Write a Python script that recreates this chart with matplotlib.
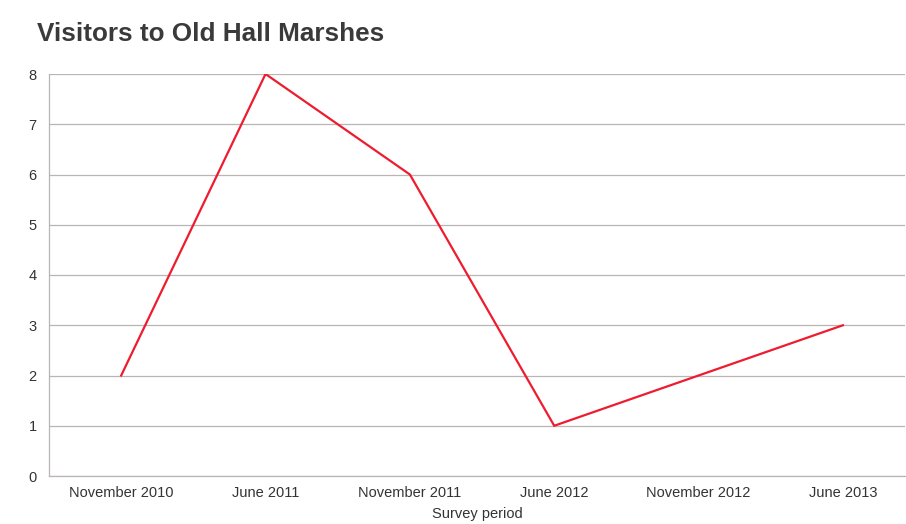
import matplotlib
matplotlib.use("Agg")
import matplotlib.pyplot as plt
import numpy as np

plt.rcParams["font.family"] = ["Liberation Sans", "DejaVu Sans"]

periods = ["November 2010", "June 2011", "November 2011", "June 2012",
           "November 2012", "June 2013"]
visitors = [2, 8, 6, 1, 2, 3]
y_ticks = [0, 1, 2, 3, 4, 5, 6, 7, 8]

RED = "#ee1c2e"
GRID = "#bab4b2"
TEXT = "#333333"

fig = plt.figure(figsize=(9.06, 5.24), dpi=100)
ax = fig.add_axes([49 / 906, 1 - 476 / 524, (905 - 49) / 906, (476 - 74) / 524])

x = np.arange(len(periods))
ax.plot(x, visitors, color=RED, linewidth=1.6, solid_joinstyle="miter", zorder=3)

ax.set_xlim(-0.5, 5.43)
ax.set_ylim(0, 8)
ax.set_yticks(y_ticks)
ax.set_xticks(x)
ax.set_xticklabels(periods)
ax.yaxis.grid(True, color=GRID, linewidth=0.9)
ax.set_axisbelow(True)

for side in ["top", "right"]:
    ax.spines[side].set_visible(False)
for side in ["left", "bottom"]:
    ax.spines[side].set_color(GRID)
    ax.spines[side].set_linewidth(0.9)

ax.tick_params(axis="both", length=0, labelsize=10.5, colors=TEXT)
ax.tick_params(axis="y", pad=9)
ax.tick_params(axis="x", pad=7)
ax.set_xlabel("Survey period", fontsize=10.5, color=TEXT, labelpad=5)

fig.text(37 / 906, 1 - 34 / 524, "Visitors to Old Hall Marshes", fontsize=18.8,
         fontweight="bold", color="#3a3a3a", va="center", ha="left")

fig.savefig("out.png", dpi=100)
